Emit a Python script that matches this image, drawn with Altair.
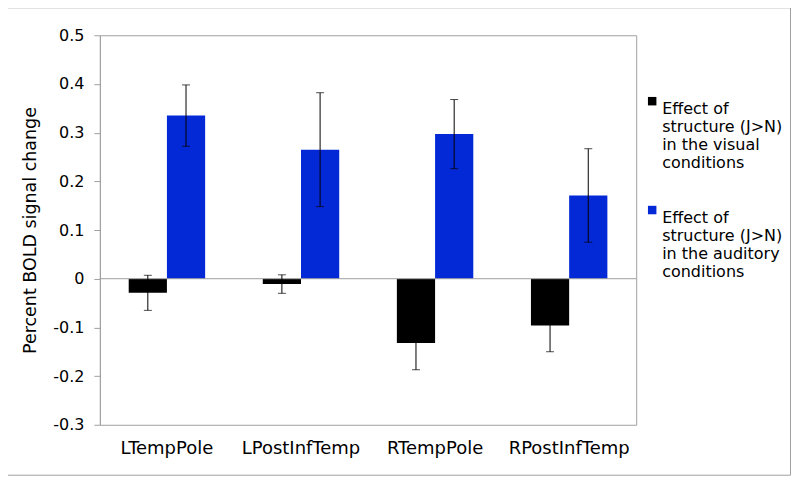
import altair as alt
import pandas as pd

regions = ["LTempPole", "LPostInfTemp", "RTempPole", "RPostInfTemp"]
series = [
    "Effect of structure (J>N) in the visual conditions",
    "Effect of structure (J>N) in the auditory conditions",
]
visual = [-0.029, -0.011, -0.132, -0.096]
visual_err = [0.036, 0.019, 0.055, 0.054]
auditory = [0.335, 0.265, 0.297, 0.171]
auditory_err = [0.063, 0.117, 0.071, 0.096]
colors = ["#000000", "#0329D6"]
legend_lines = {
    series[0]: "Effect of|structure (J>N)|in the visual|conditions",
    series[1]: "Effect of|structure (J>N)|in the auditory|conditions",
}

rows = []
for i, r in enumerate(regions):
    rows.append({"region": r, "series": series[0], "value": visual[i],
                 "lo": visual[i] - visual_err[i], "hi": visual[i] + visual_err[i]})
    rows.append({"region": r, "series": series[1], "value": auditory[i],
                 "lo": auditory[i] - auditory_err[i], "hi": auditory[i] + auditory_err[i]})
df = pd.DataFrame(rows)

FONT = "DejaVu Sans"
GREY = "#A0A0A0"

x_enc = alt.X("region:N", sort=regions,
              scale=alt.Scale(paddingInner=0.43, paddingOuter=0.215),
              axis=alt.Axis(title=None, labelAngle=0, ticks=False, domain=False,
                            labelFont=FONT, labelFontSize=18, labelColor="#000000",
                            labelPadding=15))
xo_enc = alt.XOffset("series:N", sort=series,
                     scale=alt.Scale(paddingInner=0, paddingOuter=0))

y_scale = alt.Scale(domain=[-0.3, 0.5], nice=False, zero=False)
y_axis = alt.Axis(title="Percent BOLD signal change", values=[-0.3, -0.2, -0.1, 0, 0.1, 0.2, 0.3, 0.4, 0.5],
                  grid=False, domainColor=GREY, tickColor=GREY, tickSize=6,
                  labelFont=FONT, labelFontSize=16, labelColor="#000000", labelPadding=10,
                  labelExpr="datum.value == 0 ? '0' : (datum.value < 0 ? '-' : '') + format(abs(datum.value), '.1f')",
                  titleFont=FONT, titleFontSize=17.5, titleFontWeight="normal", titleColor="#000000",
                  titlePadding=13)

bars = alt.Chart(df).mark_bar().encode(
    x=x_enc,
    xOffset=xo_enc,
    y=alt.Y("value:Q", scale=y_scale, axis=y_axis),
    color=alt.Color("series:N", sort=series,
                    scale=alt.Scale(domain=series, range=colors),
                    legend=alt.Legend(title=None, orient="none", legendX=545, legendY=58,
                                      symbolType="square", symbolSize=72, symbolStrokeWidth=0,
                                      labelFont=FONT, labelFontSize=16, labelColor="#000000",
                                      labelLimit=300, rowPadding=31, labelOffset=2,
                                      labelBaseline="top",
                                      labelExpr="split(" + "datum.label == '" + series[0] + "' ? '" + legend_lines[series[0]] + "' : '" + legend_lines[series[1]] + "', '|')")),
)

zero = alt.Chart(pd.DataFrame({"y": [0]})).mark_rule(color=GREY, strokeWidth=1).encode(
    y=alt.Y("y:Q", scale=y_scale)
)

whisk = alt.Chart(df).mark_rule(color="#000000", strokeWidth=1).encode(
    x=x_enc, xOffset=xo_enc,
    y=alt.Y("lo:Q", scale=y_scale), y2="hi:Q",
)
cap_lo = alt.Chart(df).mark_tick(color="#000000", thickness=1, size=8, orient="horizontal").encode(
    x=x_enc, xOffset=xo_enc, y=alt.Y("lo:Q", scale=y_scale),
)
cap_hi = alt.Chart(df).mark_tick(color="#000000", thickness=1, size=8, orient="horizontal").encode(
    x=x_enc, xOffset=xo_enc, y=alt.Y("hi:Q", scale=y_scale),
)

outer = alt.Chart(pd.DataFrame({"a": [0]})).mark_rect(fill=None, stroke=GREY, strokeWidth=1).encode(
    x=alt.value(-92.5), x2=alt.value(691.5), y=alt.value(-27.5), y2=alt.value(440.5)
)

chart = alt.layer(outer, bars, zero, whisk, cap_lo, cap_hi).properties(
    width=537, height=390,
    autosize=alt.AutoSizeParams(type="none"),
    padding={"left": 92, "top": 27, "right": 156, "bottom": 52},
    background="#FFFFFF",
).configure_view(stroke=GREY, strokeWidth=1)

chart.save("out.html", embed_options={"renderer": "svg", "actions": False})
